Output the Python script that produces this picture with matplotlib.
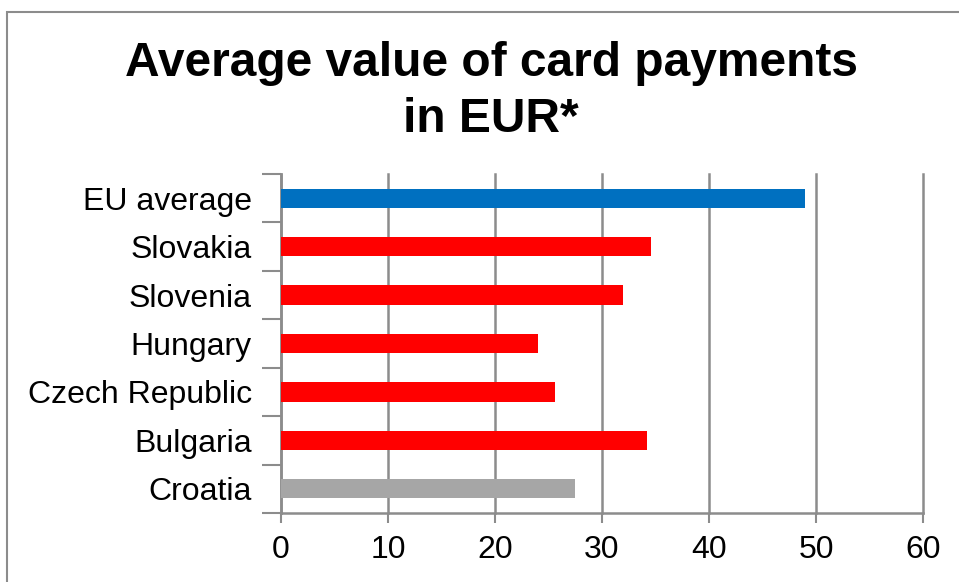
import matplotlib.pyplot as plt
from matplotlib.patches import Rectangle

countries = ['EU average', 'Slovakia', 'Slovenia', 'Hungary',
             'Czech Republic', 'Bulgaria', 'Croatia']
values = [49.0, 34.6, 32.0, 24.0, 25.6, 34.2, 27.5]
colors = ['#0070C0', '#FF0000', '#FF0000', '#FF0000',
          '#FF0000', '#FF0000', '#A6A6A6']
xticks = [0, 10, 20, 30, 40, 50, 60]

plt.rcParams['font.family'] = ['Liberation Sans', 'DejaVu Sans']

fig = plt.figure(figsize=(9.59, 5.82), dpi=100)
ax = fig.add_axes([0.293, 0.1186, 0.6695, 0.5824])

# outer frame like the spreadsheet chart area
fig.patches.append(Rectangle((7 / 959, -0.1), 1.2, (582 - 12) / 582 + 0.1,
                             transform=fig.transFigure, fill=False,
                             edgecolor='#8c8c8c', linewidth=1.5))

pos = list(range(len(countries)))[::-1]
ax.barh(pos, values, height=0.4, color=colors, zorder=3)

ax.set_xlim(0, 60)
ax.set_ylim(-0.5, len(countries) - 0.5)
ax.set_xticks(xticks)
ax.set_xticklabels([str(t) for t in xticks], fontsize=23)
ax.set_yticks(pos)
ax.set_yticklabels(countries, fontsize=23)
ax.tick_params(axis='y', length=0, pad=21)
ax.tick_params(axis='x', length=7.5, width=1.5, color='#8c8c8c', pad=8)

# y tick marks on category boundaries
ax.set_yticks([p - 0.5 for p in range(len(countries) + 1)], minor=True)
ax.tick_params(axis='y', which='minor', length=14, width=1.5, color='#8c8c8c')

ax.grid(axis='x', color='#8c8c8c', linewidth=1.8, zorder=0)
for gl in ax.get_xgridlines():
    gl.set_clip_on(False)
for s in ['top', 'right']:
    ax.spines[s].set_visible(False)
for s in ['left', 'bottom']:
    ax.spines[s].set_color('#8c8c8c')
    ax.spines[s].set_linewidth(1.8)

fig.text(0.512, 0.843, 'Average value of card payments\nin EUR*', ha='center',
         va='center', fontsize=34.5, fontweight='bold', linespacing=1.3)

fig.savefig('out.png', dpi=100)
